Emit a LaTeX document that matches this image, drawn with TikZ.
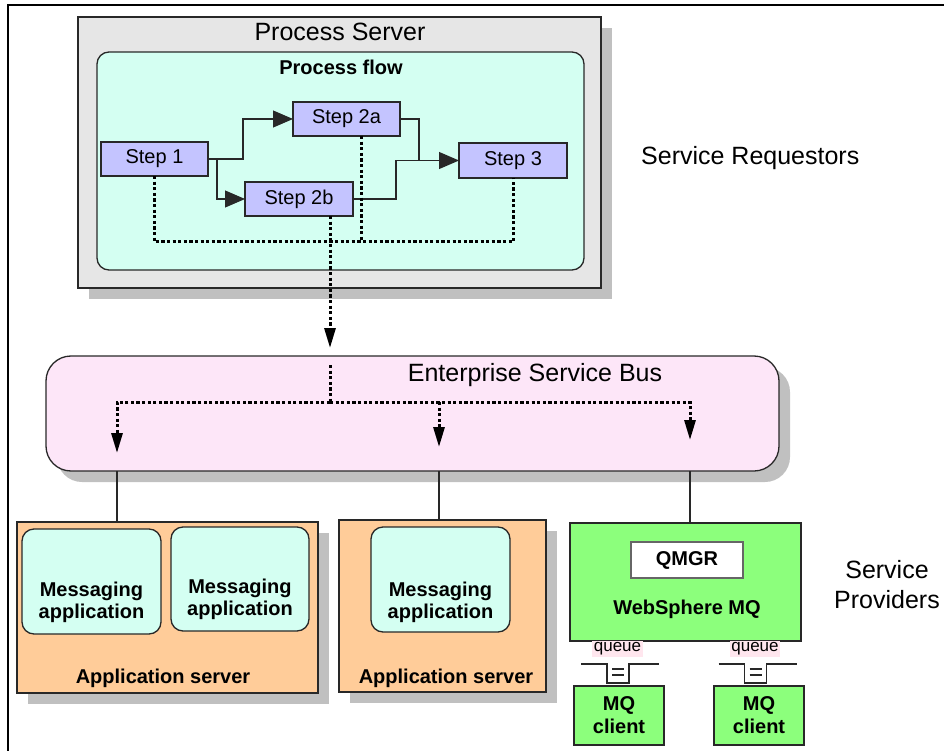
\documentclass[tikz,border=0pt]{standalone}
\usepackage{fontspec}
\setmainfont{Liberation Sans}
\usetikzlibrary{arrows.meta,shadows,calc}
\definecolor{psgray}{RGB}{230,230,230}
\definecolor{shadowgray}{RGB}{192,192,192}
\definecolor{flowcyan}{RGB}{212,255,242}
\definecolor{steplav}{RGB}{196,196,255}
\definecolor{esbpink}{RGB}{253,230,248}
\definecolor{peach}{RGB}{255,204,153}
\definecolor{mqgreen}{RGB}{140,255,124}
\definecolor{qpink}{RGB}{255,230,238}
\definecolor{edge}{RGB}{40,40,40}
\begin{document}
\begin{tikzpicture}[x=1pt,y=-1pt,
  box/.style={draw=edge,line width=1.3pt,inner sep=0pt,outer sep=0pt},
  shad/.style={drop shadow={shadow xshift=11pt,shadow yshift=-11pt,fill=shadowgray,opacity=1,draw=none}},
  stepbox/.style={box,fill=steplav,font=\fontsize{20}{24}\selectfont},
  roundbox/.style={box,rounded corners=12pt},
  big/.style={font=\fontsize{25}{30}\selectfont,inner sep=0pt},
  boldlab/.style={font=\bfseries\fontsize{20}{22}\selectfont,inner sep=0pt,align=center},
  conn/.style={line width=1.1pt,draw=edge},
  ftip/.style={-{Triangle[length=20pt,width=17pt]}},
  dots/.style={line width=3pt,dash pattern=on 3.2pt off 2.4pt},
  dtip/.style={-{Triangle[length=20pt,width=11pt]}},
  qline/.style={line width=1.3pt,draw=edge},
  qlab/.style={fill=qpink,font=\fontsize{17}{19}\selectfont,inner sep=1.5pt},
  queuesym/.pic={
    \draw[qline] (-37,-19) -- (-11,-19) -- (-11,0) -- (11,0) -- (11,-19) -- (41,-19);
    \draw[qline] (-6,-14) -- (6,-14) (-6,-8) -- (6,-8);}
]
\useasboundingbox (0,0) rectangle (944,751);
\fill[white] (0,0) rectangle (944,751);
\draw[line width=1.5pt] (944,5) -- (8,5) -- (8,751);

% Process server
\node[box,shad,fill=psgray,minimum width=523pt,minimum height=271pt] (ps) at (339.5,152.5) {};
\node[big] (pstitle) at (340,32) {Process Server};
\node[roundbox,fill=flowcyan,minimum width=487pt,minimum height=218pt] (pf) at (340.5,161) {};
\node[boldlab] (pftitle) at (341,67) {Process flow};

\node[stepbox,minimum width=107pt,minimum height=34pt] (s1) at (154.5,159) {Step 1};
\node[stepbox,minimum width=107pt,minimum height=34pt] (s2a) at (346.5,119) {Step 2a};
\node[stepbox,minimum width=108pt,minimum height=34pt] (s2b) at (299,199) {Step 2b};
\node[stepbox,minimum width=108pt,minimum height=35pt] (s3) at (513,160.5) {Step 3};

\draw[conn,ftip] (s1.east) -- ++(35,0) |- (s2a.west);
\draw[conn,ftip] ([xshift=9pt]s1.east) |- (s2b.west);
\draw[conn,ftip] (s2a.east) -- ++(19,0) |- (s3.west);
\draw[conn] (s2b.east) -- ++(43,0) |- ([xshift=-40pt]s3.west);

\node[big,anchor=west] (sr) at (641,158) {Service Requestors};

% ESB
\node[box,shad,fill=esbpink,rounded corners=25pt,minimum width=733pt,minimum height=115pt] (esb) at (412.5,413.5) {};
\node[big] (esbtitle) at (535,375) {Enterprise Service Bus};

% dotted flow
\coordinate (dl) at (0,242);
\draw[dots] (s1.south) -- (s1.south |- dl) -| (s3.south);
\coordinate (d2a) at ([xshift=14.5pt]s2a.south);
\draw[dots] (d2a) -- (d2a |- dl);
\coordinate (d2b) at ([xshift=31pt]s2b.south);
\path (d2b |- esb.north) ++(0,-8) coordinate (dtipc);
\draw[dots,dtip] (d2b) -- (dtipc);
\path (d2b |- esb.north) ++(0,9) coordinate (dstart);
\coordinate (busy) at (0,402);
\coordinate (hub) at (d2b |- busy);
\coordinate (t1) at (117,453);
\coordinate (t2) at (439,447);
\coordinate (t3) at (690,440);
\draw[dots] (dstart) -- (hub);
\draw[dots,dtip] (hub) -| (t1);
\draw[dots,dtip] (hub) -| (t3);
\draw[dots,dtip] (t2 |- hub) -- (t2);

% application servers
\node[box,shad,fill=peach,minimum width=301pt,minimum height=171pt] (as1) at (167.5,607.5) {};
\node[roundbox,fill=flowcyan,minimum width=139pt,minimum height=105pt] (ma1) at (91.5,581.5) {};
\node[roundbox,fill=flowcyan,minimum width=138pt,minimum height=104pt] (ma2) at (240,579) {};
\node[boldlab] (ma1t) at (91.5,602.5) {Messaging\\application};
\node[boldlab] (ma2t) at (240,599.5) {Messaging\\application};
\node[boldlab] (as1t) at (163,678) {Application server};

\node[box,shad,fill=peach,minimum width=207pt,minimum height=172pt] (as2) at (442.5,606) {};
\node[roundbox,fill=flowcyan,minimum width=139pt,minimum height=105pt] (ma3) at (440.5,579.5) {};
\node[boldlab] (ma3t) at (440.5,602) {Messaging\\application};
\node[boldlab] (as2t) at (446,678) {Application server};

% WebSphere MQ
\node[box,fill=mqgreen,minimum width=231pt,minimum height=118pt] (wmq) at (685.5,582) {};
\node[box,draw=black!60,fill=white,minimum width=112pt,minimum height=36pt,font=\bfseries\fontsize{20}{22}\selectfont] (qmgr) at (687,560) {QMGR};
\node[boldlab] (wmqt) at (687,609) {WebSphere MQ};

\node[box,fill=mqgreen,minimum width=90pt,minimum height=59pt,font=\bfseries\fontsize{20}{23}\selectfont,align=center] (mqc1) at (619,715.5) {MQ\\client};
\node[box,fill=mqgreen,minimum width=90pt,minimum height=59pt,font=\bfseries\fontsize{20}{23}\selectfont,align=center] (mqc2) at (759,715.5) {MQ\\client};

\node[qlab] (q1) at (617.5,649) {queue};
\node[qlab] (q2) at (755,649) {queue};
\pic at (618,683) {queuesym};
\pic at (755.5,683) {queuesym};

\node[big,align=center,font=\fontsize{25}{30}\selectfont] (sp) at (887,585) {Service\\Providers};

% solid links
\draw[conn] (t1 |- esb.south) -- (t1 |- as1.north);
\draw[conn] (t2 |- esb.south) -- (t2 |- as2.north);
\draw[conn] (t3 |- esb.south) -- (t3 |- wmq.north);
\end{tikzpicture}
\end{document}
